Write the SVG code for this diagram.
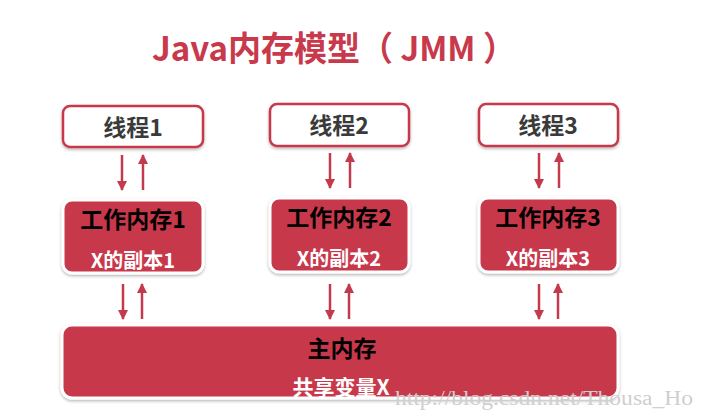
<svg xmlns="http://www.w3.org/2000/svg" width="706" height="419" viewBox="0 0 706 419">
<defs>
<marker id="ah" viewBox="0 0 10 10" refX="9" refY="5" markerWidth="4" markerHeight="4" orient="auto" markerUnits="strokeWidth">
<path d="M0,0 L10,5 L0,10 z" fill="#c23a4c"/>
</marker>
<filter id="sh" x="-10%" y="-20%" width="120%" height="150%">
<feDropShadow dx="0" dy="1.5" stdDeviation="1.5" flood-color="#000" flood-opacity="0.3"/>
</filter>
</defs>
<style>
.t{font-family:"Noto Sans CJK SC","Noto Sans",sans-serif;font-weight:bold;text-anchor:middle}
.thread{fill:#fff;stroke:#c8394b;stroke-width:2.5}
.mem{fill:#c8394b;stroke:#fff;stroke-width:3}
.a{stroke:#c23a4c;stroke-width:2.5;fill:none;marker-end:url(#ah)}
</style>
<rect width="706" height="419" fill="#fff"/>
<text x="334" y="61" class="t" font-size="34" fill="#c8394b" textLength="364" lengthAdjust="spacingAndGlyphs">Java内存模型（ JMM ）</text>
<g id="thread1"><rect class="thread" x="63" y="106" width="140" height="41" rx="7" filter="url(#sh)"/><text class="t" x="133" y="136" font-size="23" fill="#3a3a3a">线程1</text></g>
<g id="thread2"><rect class="thread" x="270" y="104" width="139" height="42" rx="7" filter="url(#sh)"/><text class="t" x="339" y="134" font-size="23" fill="#3a3a3a">线程2</text></g>
<g id="thread3"><rect class="thread" x="479" y="104" width="139" height="42" rx="7" filter="url(#sh)"/><text class="t" x="548" y="134" font-size="23" fill="#3a3a3a">线程3</text></g>
<g id="work1"><rect class="mem" x="63" y="200" width="140" height="73" rx="9" filter="url(#sh)"/><text class="t" x="133" y="228" font-size="23" fill="#000">工作内存1</text><text class="t" x="133" y="268" font-size="20" fill="#fff">X的副本1</text></g>
<g id="work2"><rect class="mem" x="270" y="198" width="139" height="74" rx="9" filter="url(#sh)"/><text class="t" x="339" y="226" font-size="23" fill="#000">工作内存2</text><text class="t" x="339" y="266" font-size="20" fill="#fff">X的副本2</text></g>
<g id="work3"><rect class="mem" x="479" y="198" width="139" height="74" rx="9" filter="url(#sh)"/><text class="t" x="548" y="226" font-size="23" fill="#000">工作内存3</text><text class="t" x="548" y="266" font-size="20" fill="#fff">X的副本3</text></g>
<g id="main"><rect class="mem" x="62" y="325" width="556" height="73" rx="10" filter="url(#sh)"/><text class="t" x="342" y="357" font-size="23" fill="#000">主内存</text><text class="t" x="341" y="395" font-size="21" fill="#fff">共享变量X</text></g>
<g id="connectors">
<line class="a" x1="122" y1="155" x2="122" y2="190"/>
<line class="a" x1="143" y1="190" x2="143" y2="155"/>
<line class="a" x1="330" y1="153" x2="330" y2="188"/>
<line class="a" x1="350" y1="188" x2="350" y2="153"/>
<line class="a" x1="539" y1="153" x2="539" y2="188"/>
<line class="a" x1="559" y1="188" x2="559" y2="153"/>
<line class="a" x1="123" y1="284" x2="123" y2="319"/>
<line class="a" x1="142" y1="319" x2="142" y2="284"/>
<line class="a" x1="330" y1="284" x2="330" y2="319"/>
<line class="a" x1="349" y1="319" x2="349" y2="284"/>
<line class="a" x1="539" y1="284" x2="539" y2="319"/>
<line class="a" x1="558" y1="319" x2="558" y2="284"/>
</g>
<text x="395" y="405" font-family="Liberation Serif,serif" font-size="20" fill="#cfcfcf" textLength="298" lengthAdjust="spacingAndGlyphs">http://blog.csdn.net/Thousa_Ho</text>
</svg>
